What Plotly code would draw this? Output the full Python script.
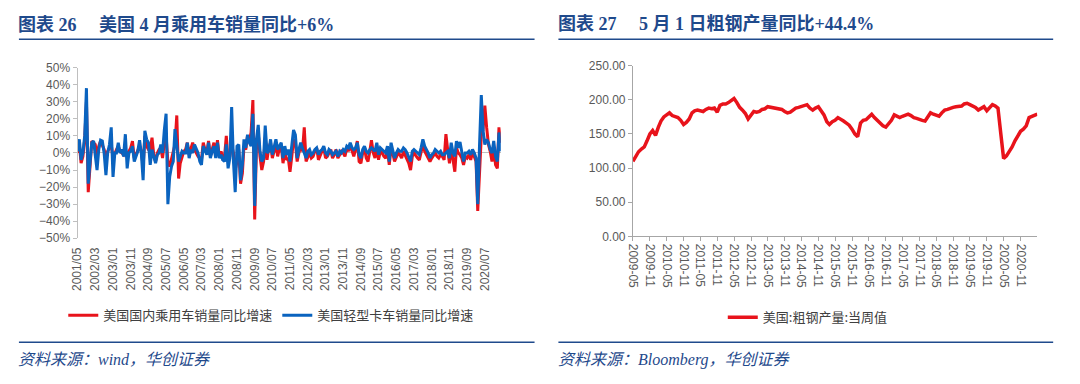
import pandas as pd
import plotly.graph_objects as go

# ---------------- data ----------------
# Left: monthly YoY (%) 2001/05 - 2021/04
car_months = pd.date_range("2001-05-01", "2021-04-01", freq="MS")
car_tick_dates = pd.date_range("2001-05-01", "2020-07-01", freq="10MS")
car_ytick_vals = [-50, -40, -30, -20, -10, 0, 10, 20, 30, 40, 50]
car_ytick_text = ["−50%", "−40%", "−30%", "−20%", "−10%", "0%",
                  "10%", "20%", "30%", "40%", "50%"]

passenger_yoy = [
    0, 5, -6, -2, 8, 30, -23, -8, 7, 6, 5, -2,
    4, 7, 5, 2, -3, 1, 3, 5, -3, 0, 2, 4,
    1, 0, -1, 2, -2, 1, 3, 7, -3, -1, 2, 4,
    1, -8, 10, 4, 2, 2, 9, -1, -5, 0, 2, 3,
    -3, 6, 10, -5, -8, -4, 0, 5, 22, -15, -6, -3,
    1, 2, 6, -1, 3, 6, 2, 0, -2, -3, -4, 6,
    2, 0, 7, -2, 3, 6, -2, 7.5, -2, 1, -3, -2,
    10, -5, -2, 5, 0, -10, -5, 2, -18, -12, 4, 2,
    10, 7, 12, 31, -39, 3, 12, -2, -10, -5, 9, -4,
    3, 6, -3, 2, 5, -2, 3, 4, -6, 1, -4, -3,
    -11, -2, 8, 6, -5, 0, 4, 1, 15, -5, -2, 0,
    -3, -2, 1, 3, -4, -1, 1, 3, -3, -2, 0, 2,
    -3, -1, 2, -3, -1, 1, 0, -2, 3, 1, 5, 1,
    -2, 2, 7, -5, -6, 0, 3, -3, -5, 1, 7.5, 0,
    -3, 4, -4, 1, 0, -2, -3, 2, -7, 3, 0, -5,
    -2, 0, -1, -3, 1, -1, -4, -6, -10, -2, 0, -2,
    -3, -4, 0, 5, 1, -1, -3, -5, -3, -1, 0, -2,
    -3, -1, -2, -4, 11, 2, -6, 3, -4, -11, 3, 0,
    -1, -3, -7, -2, -3, -1, -4, 0, -2, -5, -34, -8,
    10, 14, 27.7, 15, 5, 1, -5, 3, -7, -9, 15, 6,
]

light_truck_yoy = [
    1, 8, -4, 0, 10, 38, -18, -5, 6, 7, -3, -10,
    2, 7.5, 7, 0, -13, 0, 5, 15, -14, 0, 0, 6,
    0, 2, -2, 11, -9, 0, 1, 4, -5, -2, 1, 7.5,
    0, -16, 13, 8, 6, -7, 2, -2, -6, -1, 0, 5,
    0, 13.5, 23, -30, -14, -8, -5, 14, 3, -5, -2, 1,
    0, 0, 6, -3, 2, 0, 5, 2, 0, -5, -7, 4,
    1, -1, 6, -3, 1, 4, -3, 6, -3, -1, -4, -5,
    5, -9, -3, 27, -5, -23, 4, 5, -16, -7, 8, 3,
    10.7, 6, 4, 23, -31, 8, 16.5, 1, -5, -3, 16, 0,
    1, 8, -1, 4, 8, 2, 4, 6, -3, 4, -1, 2,
    -5, 3, 13.5, 10.7, -3, 2, 6, 3, 0, -3, 1, 2,
    -1, 0, 2, 3, -1, 1, 2, 4, 0, -1, 2, 1,
    -1, 0, 1, -2, 1, 0, 2, 1, 4, 3, 6, 3,
    2, 3, 6, -1, -3, 2, 4, 1, 0, 2, 3, 2,
    1, 6, -1, 3, 2, 1, 0, 4, -5, 6, 2, -3,
    0, 2, 1, 1, 3, 2, 0, -2, -5, 1, 2, 1,
    0, -1, 3, 8, 4, 2, 0, -3, -1, 0, 2, 1,
    0, 1, -1, -1, 0, 1, -3, 6, 0, -2, 7, 3,
    6.5, 1, -5, 0, 0, 1, -1, 2, 0, -3, -30, 5,
    34, 13, 5, 8, 6, 2, 0, 7, -2, -5, 12, 1,
]

# Right: US crude steel production, weekly value (read monthly) 2009-05 - 2021-05
steel_months = pd.date_range("2009-05-01", "2021-05-01", freq="MS")
steel_tick_dates = pd.date_range("2009-05-01", "2020-11-01", freq="6MS")
steel_output = [
    110, 118, 124, 128, 131, 140, 150, 155, 148, 160, 169, 175,
    178, 181, 177, 175, 174, 170, 164, 167, 172, 181, 184, 185,
    184, 183, 186, 188, 187, 188, 182, 192, 194, 194, 196, 199,
    202, 196, 189, 185, 180, 172, 178, 183, 182, 183, 186, 187,
    190, 189, 188, 187, 187, 186, 183, 181, 182, 185, 188, 189,
    190, 191, 193, 188, 185, 188, 190, 184, 178, 168, 164, 168,
    170, 174, 172, 169, 166, 163, 157, 150, 146, 166, 170, 171,
    175, 179, 174, 170, 165, 162, 160, 165, 170, 178, 176, 174,
    176, 177, 179, 177, 174, 173, 171, 170, 169, 176, 181, 179,
    178, 176, 181, 185, 186, 188, 189, 190, 190, 191, 194, 195,
    193, 191, 189, 185, 188, 190, 184, 188, 193, 191, 188, 150,
    114, 118, 124, 131, 140, 147, 154, 157, 162, 174, 176, 177,
    179,
]

left_title = "<b>图表 26　 美国 4 月乘用车销量同比+6%</b>"
right_title = "<b>图表 27　 5 月 1 日粗钢产量同比+44.4%</b>"
left_source = "<i>资料来源：wind，华创证券</i>"
right_source = "<i>资料来源：Bloomberg，华创证券</i>"

RED = "#E8131B"
BLUE = "#0A63BF"
NAVY = "#1F4A8C"
GRAY_TXT = "#595959"
AXIS = "#BFBFBF"
TICK_FONT = dict(family="Liberation Sans, Noto Sans CJK SC", size=12, color=GRAY_TXT)
LEG_FONT = dict(family="Noto Sans CJK SC", size=13, color="#404040")

W, H = 1080, 384

fig = go.Figure()
fig.add_trace(go.Scatter(x=car_months, y=passenger_yoy, mode="lines",
                         name="美国国内乘用车销量同比增速",
                         line=dict(color=RED, width=3), xaxis="x", yaxis="y",
                         legend="legend"))
fig.add_trace(go.Scatter(x=car_months, y=light_truck_yoy, mode="lines",
                         name="美国轻型卡车销量同比增速",
                         line=dict(color=BLUE, width=3), xaxis="x", yaxis="y",
                         legend="legend"))
fig.add_trace(go.Scatter(x=steel_months, y=steel_output, mode="lines",
                         name="美国:粗钢产量:当周值",
                         line=dict(color=RED, width=3.5), xaxis="x2", yaxis="y2",
                         legend="legend2"))

def px_x(p):
    return p / W

def px_y(p):
    return 1 - p / H

fig.update_layout(
    width=W, height=H,
    margin=dict(l=0, r=0, t=0, b=0),
    paper_bgcolor="white", plot_bgcolor="white",
    xaxis=dict(domain=[px_x(71), px_x(497)], type="date",
               range=[car_months[0], car_months[-1]],
               tickvals=list(car_tick_dates), tickformat="%Y/%m",
               tickangle=-90, showgrid=False, showline=False, ticks="",
               zeroline=False, tickfont=TICK_FONT, ticklabelstandoff=6,
               anchor="y"),
    yaxis=dict(domain=[px_y(240), px_y(63)], range=[-50, 50],
               tickvals=car_ytick_vals, ticktext=car_ytick_text,
               showgrid=False, showline=True, linecolor=AXIS, linewidth=1,
               ticks="outside", ticklen=4, tickcolor=AXIS,
               zeroline=True, zerolinecolor=AXIS, zerolinewidth=1,
               tickfont=TICK_FONT, anchor="x"),
    xaxis2=dict(domain=[px_x(630), px_x(1037)], type="date",
                range=[steel_months[0], steel_months[-1]],
                tickvals=list(steel_tick_dates), tickformat="%Y-%m",
                tickangle=90, showgrid=False, showline=True, linecolor="#A6A6A6",
                ticks="outside", ticklen=4, tickcolor="#A6A6A6",
                zeroline=False, tickfont=TICK_FONT, anchor="y2"),
    yaxis2=dict(domain=[px_y(238), px_y(61)], range=[0, 250],
                tickvals=list(range(0, 251, 50)), tickformat=".2f",
                showgrid=False, showline=True, linecolor="#A6A6A6",
                ticks="outside", ticklen=4, tickcolor="#A6A6A6",
                zeroline=False, tickfont=TICK_FONT, anchor="x2"),
    legend=dict(orientation="h", x=px_x(266), xanchor="center",
                y=px_y(320), yanchor="middle", font=LEG_FONT,
                bgcolor="rgba(0,0,0,0)"),
    legend2=dict(orientation="h", x=px_x(806), xanchor="center",
                 y=px_y(322), yanchor="middle", font=LEG_FONT,
                 bgcolor="rgba(0,0,0,0)"),
    showlegend=True,
)

TITLE_FONT = dict(family="Liberation Serif, Noto Sans CJK SC", size=18, color=NAVY)
SRC_FONT = dict(family="Liberation Serif, Noto Sans CJK SC", size=16, color=NAVY)

for x0, txt in [(9, left_title), (553, right_title)]:
    fig.add_annotation(x=px_x(x0), y=px_y(18), xref="paper", yref="paper",
                       text=txt, showarrow=False, xanchor="left", yanchor="middle",
                       font=TITLE_FONT)
for x0, txt in [(9, left_source), (553, right_source)]:
    fig.add_annotation(x=px_x(x0), y=px_y(366), xref="paper", yref="paper",
                       text=txt, showarrow=False, xanchor="left", yanchor="middle",
                       font=SRC_FONT)

for (a, b) in [(12, 531), (555, 1053)]:
    for yy in (33.5, 348):
        fig.add_shape(type="line", xref="paper", yref="paper",
                      x0=px_x(a), x1=px_x(b), y0=px_y(yy), y1=px_y(yy),
                      line=dict(color=NAVY, width=1.5))

fig.write_html("out.html",
               config={"displayModeBar": False, "staticPlot": True},
               post_script="document.body.style.margin='0';document.body.style.overflow='hidden';")
